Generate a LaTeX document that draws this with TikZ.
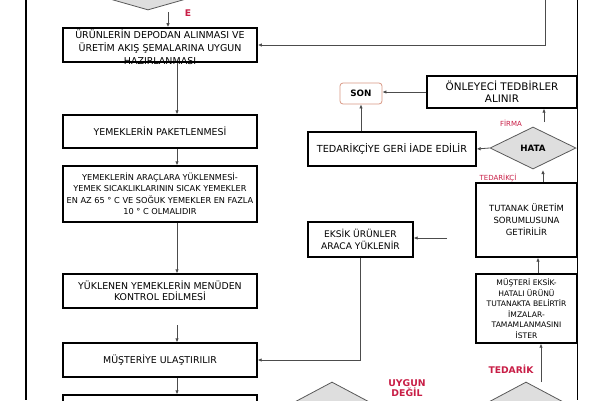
\documentclass[tikz,border=0pt]{standalone}
\usepackage{fontspec}
\setmainfont{DejaVu Sans}
\usetikzlibrary{shapes.geometric,arrows.meta}
\definecolor{kirmizi}{RGB}{200,30,70}
\definecolor{kararfill}{RGB}{222,222,222}
\definecolor{sonkenar}{RGB}{215,150,130}
\tikzset{
  kutu/.style={draw,rectangle,line width=1.3pt,inner sep=1pt,align=center,font=\fontsize{9.4}{11}\selectfont},
  karar/.style={draw=black!65,fill=kararfill,diamond,inner sep=0pt,line width=0.8pt,font=\bfseries\fontsize{8.7}{10}\selectfont},
  etiket/.style={text=kirmizi,align=center,font=\bfseries\fontsize{9.2}{11}\selectfont},
  incetiket/.style={text=kirmizi,font=\fontsize{7}{8}\selectfont},
  ok/.style={draw=black!70,line width=0.8pt,-{Latex[length=4pt,width=3.5pt]}}
}
\begin{document}
\begin{tikzpicture}[x=1pt,y=-1pt]
\useasboundingbox (0,0) rectangle (600,400);
\clip (0,0) rectangle (600,400);

% sol sutun
\node[karar,minimum width=140pt,minimum height=40pt] (ustkarar) at (148,-10) {};
\node[etiket] (e) at (188,13) {E};
\node[kutu,minimum width=194pt,minimum height=34pt,line width=1.6pt] (depo) at (160,45) {};
\node[align=center,font=\fontsize{9.5}{13}\selectfont] (depoyazi) at (160,47) {ÜRÜNLERİN DEPODAN ALINMASI VE\\ÜRETİM AKIŞ ŞEMALARINA UYGUN\\HAZIRLANMASI};
\node[kutu,minimum width=194pt,minimum height=33pt] (paket) at (160,131.5) {YEMEKLERİN PAKETLENMESİ};
\node[kutu,minimum width=194pt,minimum height=56pt,font=\fontsize{8.2}{11.5}\selectfont] (arac) at (160,194) {YEMEKLERİN ARAÇLARA YÜKLENMESİ-\\YEMEK SICAKLIKLARININ SICAK YEMEKLER\\EN AZ 65 ° C VE SOĞUK YEMEKLER EN FAZLA\\10 ° C OLMALIDIR};
\node[kutu,minimum width=194pt,minimum height=34pt] (kontrol) at (160,291) {YÜKLENEN YEMEKLERİN MENÜDEN\\KONTROL EDİLMESİ};
\node[kutu,minimum width=194pt,minimum height=34pt] (teslim) at (160,360) {MÜŞTERİYE ULAŞTIRILIR};
\node[kutu,minimum width=194pt,minimum height=40pt] (sonraki) at (160,415) {};

% sag taraf
\node[draw=sonkenar,rounded corners=3pt,line width=0.8pt,minimum width=42pt,minimum height=21pt,font=\bfseries\fontsize{8.8}{10}\selectfont] (son) at (361,93.5) {SON};
\node[kutu,minimum width=150pt,minimum height=32pt,font=\fontsize{10.4}{12}\selectfont] (onlem) at (502,92) {ÖNLEYECİ TEDBİRLER\\ALINIR};
\node[kutu,minimum width=168pt,minimum height=34pt,font=\fontsize{9.7}{11}\selectfont] (iade) at (392,149) {TEDARİKÇİYE GERİ İADE EDİLİR};
\node[karar,minimum width=86pt,minimum height=42pt] (hata) at (533,148) {HATA};
\node[kutu,minimum width=101pt,minimum height=74pt,font=\fontsize{8.5}{12}\selectfont] (tutanak) at (526.5,220) {TUTANAK ÜRETİM\\SORUMLUSUNA\\GETİRİLİR};
\node[kutu,minimum width=105pt,minimum height=35pt,font=\fontsize{9.1}{11.5}\selectfont] (eksik) at (360.5,239.5) {EKSİK ÜRÜNLER\\ARACA YÜKLENİR};
\node[kutu,minimum width=101pt,minimum height=69pt,font=\fontsize{7.6}{10.5}\selectfont] (imza) at (526.5,308.5) {MÜŞTERİ EKSİK-\\HATALI ÜRÜNÜ\\TUTANAKTA BELİRTİR\\İMZALAR-\\TAMAMLANMASINI\\İSTER};
\node[karar,minimum width=90pt,minimum height=48pt] (uygunkarar) at (332,406) {};
\node[karar,minimum width=90pt,minimum height=48pt] (tedarikkarar) at (526,406) {};

\node[incetiket] (firma) at (511,123) {FİRMA};
\node[incetiket] (tedarikci) at (498,178) {TEDARİKÇİ};
\node[etiket] (tedarik) at (511,369) {TEDARİK};
\node[etiket,inner sep=0pt,font=\bfseries\fontsize{9.3}{10}\selectfont] (uygundegil) at (407,388.5) {UYGUN\\DEĞİL};

\coordinate (kolon) at (177,0);
\coordinate (eok) at (168,12);
\coordinate (bosluk) at (177,325);
\coordinate (sagust) at (545,0);
\coordinate (solust) at (26,0);
\coordinate (solalt) at (26,400);
\coordinate (sagkenar) at (577.5,0);
\coordinate (sagalt) at (577.5,400);
\coordinate (firmaok) at (544,122);
\coordinate (tedok) at (543,170);
\coordinate (eksikok) at (447,238);
\coordinate (imzaok) at (538,0);
\coordinate (tedarikok) at (541,382);

\draw[line width=1.6pt] (solust) -- (solalt);
\draw[line width=1.3pt] (sagkenar) -- (sagalt);

\draw[ok] (eok) -- (eok |- depo.north);
\draw[ok] (depo.south -| kolon) -- (paket.north -| kolon);
\draw[ok] (paket.south -| kolon) -- (arac.north -| kolon);
\draw[ok] (arac.south -| kolon) -- (kontrol.north -| kolon);
\draw[ok] (bosluk) -- (teslim.north -| kolon);
\draw[ok] (teslim.south -| kolon) -- (sonraki.north -| kolon);
\draw[ok] (sagust) |- (depo.east);

\draw[ok] (onlem.west) -- (onlem.west -| son.east);
\draw[ok] (son |- iade.north) -- (son.south);
\draw[ok] (hata.west) -- (iade.east);
\draw[ok] (firmaok) -- (onlem.south -| firmaok);
\draw[ok] (tutanak.north -| tedok) -- (tedok);
\draw[ok] (eksikok) -- (eksikok -| eksik.east);
\draw[ok] (eksik.south) |- (teslim.east);
\draw[ok] (imza.north -| imzaok) -- (tutanak.south -| imzaok);
\draw[ok] (tedarikok) -- (imza.south -| tedarikok);
\end{tikzpicture}
\end{document}
